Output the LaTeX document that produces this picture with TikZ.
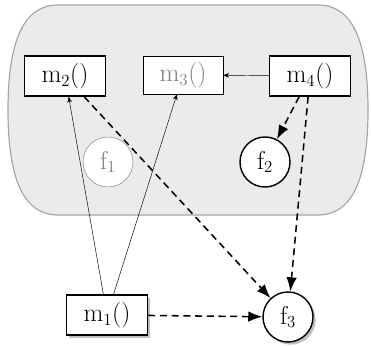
\documentclass[tikz,border=0pt]{standalone}
\usepackage{tikz}
\usetikzlibrary{arrows.meta, shadows}

\begin{document}
\begin{tikzpicture}[
  x=0.03cm, y=-0.03cm,
  font=\fontsize{22}{26}\selectfont,
  method/.style={rectangle, draw, line width=1.2pt, fill=white, minimum width=2.43cm, minimum height=1.2cm, inner sep=0pt},
  ghost/.style={rectangle, draw, line width=0.4pt, fill=white, text=gray, minimum width=2.4cm, minimum height=1.14cm, inner sep=0pt},
  field/.style={circle, draw, line width=1.2pt, fill=white, minimum size=1.5cm, inner sep=0pt},
  ghostfield/.style={circle, draw=gray, line width=0.4pt, fill=white, text=gray, minimum size=1.5cm, inner sep=0pt},
  shade/.style={drop shadow={shadow xshift=0.8mm, shadow yshift=-0.8mm, opacity=0.5}},
  call/.style={-{Stealth[length=5pt, width=4pt]}, line width=0.4pt},
  access/.style={-{Latex[length=12pt, width=9pt]}, line width=1.3pt, dash pattern=on 6pt off 4pt}
]
\useasboundingbox (0,0) rectangle (371,346);
% class body
\draw[gray!70, line width=1pt, fill=gray!16]
  (58,5) -- (318,5) .. controls (352,5) and (368,40) .. (368,110)
  .. controls (368,180) and (352,215) .. (318,215) -- (58,215)
  .. controls (24,215) and (8,180) .. (8,110)
  .. controls (8,40) and (24,5) .. cycle;

\node[method] (m2) at (65,76) {m$_2$()};
\node[ghost] (m3) at (183,75) {m$_3$()};
\node[method] (m4) at (310,76) {m$_4$()};
\node[ghostfield] (f1) at (108,162) {f$_1$};
\node[field] (f2) at (265,162) {f$_2$};
\node[method, shade] (m1) at (107,315) {m$_1$()};
\node[field, shade] (f3) at (288,317) {f$_3$};

\foreach \a/\b in {m4/m3, m1/m2, m1/m3}
  \draw[call] (\a) -- (\b);
\foreach \a/\b in {m4/f2, m4/f3, m2/f3, m1/f3}
  \draw[access] (\a) -- (\b);
\end{tikzpicture}
\end{document}
